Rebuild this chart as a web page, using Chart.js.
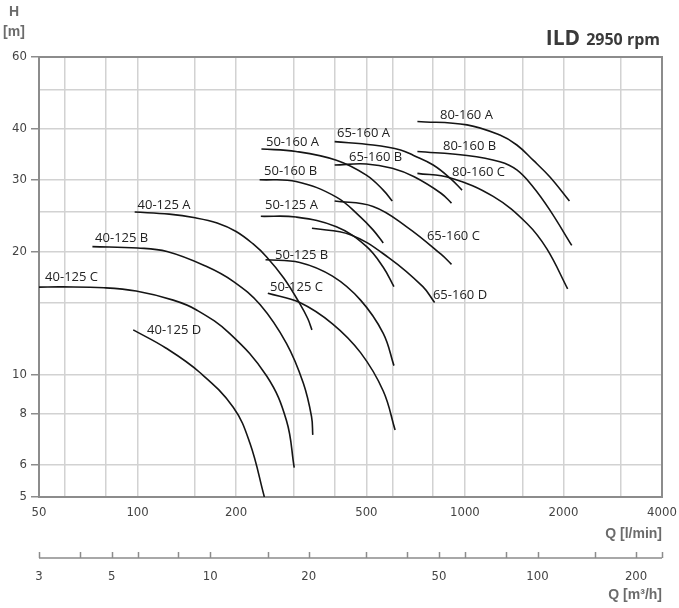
<!DOCTYPE html>
<html>
<head>
<meta charset="utf-8">
<title>ILD 2950 rpm</title>
<script src="https://cdn.jsdelivr.net/npm/chart.js@4"></script>
<style>
    html, body { margin: 0; padding: 0; background: #fff; }
    #wrap { width: 679px; height: 608px; }
</style>
</head>
<body>
<div id="wrap"><canvas id="pump-chart"></canvas></div>
<script>
// Axis ticks and labels
const qGrid = [50, 60, 80, 100, 150, 200, 300, 400, 500, 600, 800, 1000, 1500, 2000, 3000, 4000];
const qLabels = [50, 100, 200, 500, 1000, 2000, 4000];
const hGrid = [5, 6, 8, 10, 15, 20, 25, 30, 40, 50, 60];
const hLabels = [5, 6, 8, 10, 20, 30, 40, 60];
const m3Ticks = [3, 4, 5, 6, 8, 10, 15, 20, 30, 40, 50, 60, 80, 100, 150, 200, 240];
const m3Labels = [3, 5, 10, 20, 50, 100, 200];

// Pump curves, Q in l/min and H in m
const q40125A = [98, 125, 150, 175, 200, 225, 248, 280, 313, 331, 341];
const h40125A = [25.0, 24.7, 24.2, 23.5, 22.4, 20.9, 19.4, 17.2, 14.9, 13.7, 12.85];
const q40125B = [72.8, 100, 123, 162, 196, 237, 285, 321, 340, 343];
const h40125B = [20.56, 20.4, 20.0, 18.4, 16.9, 14.8, 11.9, 9.5, 7.87, 7.1];
const q40125C = [50, 59, 79, 99, 128.5, 151, 191, 248, 285, 301];
const h40125C = [16.36, 16.38, 16.3, 16.0, 15.2, 14.4, 12.6, 9.9, 7.7, 5.9];
const q40125D = [97, 122, 155, 196, 220.5, 244];
const h40125D = [12.85, 11.6, 10.1, 8.3, 6.77, 5.0];

const q50160A = [239, 305, 405, 500, 563, 600];
const h50160A = [35.7, 35.2, 33.5, 30.8, 28.3, 26.6];
const q50160B = [236, 305, 405, 480, 524, 563];
const h50160B = [30.0, 29.7, 27.2, 24.3, 22.6, 21.0];
const q50125A = [238, 305, 405, 500, 563, 607];
const h50125A = [24.4, 24.3, 23.0, 20.6, 18.3, 16.4];
const q50125B = [246, 313, 394, 480, 563, 607];
const h50125B = [19.1, 18.8, 17.4, 15.2, 12.6, 10.5];
const q50125C = [250, 313, 394, 480, 563, 612];
const h50125C = [15.8, 15.0, 13.3, 11.3, 9.1, 7.3];

const q65160A = [400, 524, 636, 697, 800, 904, 980];
const h65160A = [37.2, 36.5, 35.5, 34.4, 32.6, 30.2, 28.3];
const q65160B = [400, 500, 600, 700, 845, 910];
const h65160B = [32.6, 32.8, 32.0, 30.5, 27.8, 26.3];
const q65160C = [400, 524, 664, 845, 910];
const h65160C = [26.6, 25.8, 23.0, 19.7, 18.6];
const q65160D = [341, 447, 586, 744, 808];
const h65160D = [22.8, 22.0, 19.3, 16.4, 15.0];

const q80160A = [716, 1015, 1279, 1441, 1616, 1816, 2086];
const h80160A = [41.7, 40.9, 38.6, 36.5, 33.5, 30.5, 26.6];
const q80160B = [716, 1015, 1279, 1441, 1616, 1816, 2120];
const h80160B = [35.2, 34.4, 33.2, 31.7, 28.8, 25.3, 20.7];
const q80160C = [716, 904, 1220, 1550, 1780, 2060];
const h80160C = [31.1, 30.3, 27.3, 23.4, 20.3, 16.2];

const curves = [
    ['40-125 A', q40125A, h40125A], ['40-125 B', q40125B, h40125B],
    ['40-125 C', q40125C, h40125C], ['40-125 D', q40125D, h40125D],
    ['50-160 A', q50160A, h50160A], ['50-160 B', q50160B, h50160B],
    ['50-125 A', q50125A, h50125A], ['50-125 B', q50125B, h50125B],
    ['50-125 C', q50125C, h50125C],
    ['65-160 A', q65160A, h65160A], ['65-160 B', q65160B, h65160B],
    ['65-160 C', q65160C, h65160C], ['65-160 D', q65160D, h65160D],
    ['80-160 A', q80160A, h80160A], ['80-160 B', q80160B, h80160B],
    ['80-160 C', q80160C, h80160C]
];

// where each curve name sits (left edge, middle), in Q / H units
const labelAt = {
    '40-125 A': [100, 26.0], '40-125 B': [74.2, 21.6], '40-125 C': [52.2, 17.3],
    '40-125 D': [106.9, 12.85], '50-160 A': [246.8, 37.1], '50-160 B': [243.4, 31.5],
    '50-125 A': [245, 25.9], '50-125 B': [262.9, 19.6], '50-125 C': [253.8, 16.36],
    '65-160 A': [406.6, 38.9], '65-160 B': [442.5, 34.1], '65-160 C': [765.6, 21.8],
    '65-160 D': [798.6, 15.65], '80-160 A': [839, 43.2], '80-160 B': [857, 36.3],
    '80-160 C': [913, 31.2]
};

const tickFont = { family: '"Liberation Sans Narrow", "DejaVu Sans Condensed", "Liberation Sans", sans-serif', size: 13 };
const titleColor = '#6b6b6b';

// keep the plot box fixed, whatever the tick label widths
function fixHeight(h) {
    return function(s) {
        s.height = h;
        s.paddingLeft = 0;
        s.paddingRight = 0;
    };
}

const extras = {
    id: 'extras',
    beforeDatasetsDraw(chart) {
        // plot frame
        const { ctx, chartArea: a } = chart;
        ctx.save();
        ctx.strokeStyle = '#8c8c8c';
        ctx.lineWidth = 2;
        ctx.strokeRect(a.left, a.top, a.right - a.left, a.bottom - a.top);
        ctx.restore();
    },
    afterDatasetsDraw(chart) {
        const { ctx } = chart;
        const x = chart.scales.x, y = chart.scales.y;
        ctx.save();
        ctx.font = '13px "Open Sans", sans-serif';
        ctx.fillStyle = '#222';
        ctx.textAlign = 'left';
        ctx.textBaseline = 'middle';
        curves.forEach(function(c) {
            const p = labelAt[c[0]];
            ctx.fillText(c[0], x.getPixelForValue(p[0]), y.getPixelForValue(p[1]));
        });
        ctx.restore();
    },
    afterDraw(chart) {
        const { ctx } = chart;
        const x2 = chart.scales.x2;
        const a = chart.chartArea;
        ctx.save();

        // second Q axis: line with ticks pointing up
        const top = x2.top;
        ctx.strokeStyle = '#8c8c8c';
        ctx.lineWidth = 1.5;
        ctx.beginPath();
        ctx.moveTo(x2.left, top);
        ctx.lineTo(x2.right, top);
        m3Ticks.forEach(function(v) {
            const px = Math.round(x2.getPixelForValue(v)) + 0.5;
            ctx.moveTo(px, top);
            ctx.lineTo(px, top - 6);
        });
        ctx.stroke();

        // axis titles
        ctx.fillStyle = titleColor;
        ctx.font = 'bold 14px "Liberation Sans", sans-serif';
        ctx.textBaseline = 'middle';
        ctx.textAlign = 'center';
        ctx.fillText('H', 14, 12);
        ctx.fillText('[m]', 14, 32);
        ctx.textAlign = 'right';
        ctx.fillText('Q [l/min]', a.right, 534);
        ctx.fillText('Q [m³/h]', a.right, 595);

        // heading
        ctx.fillStyle = '#3a3a3a';
        ctx.textBaseline = 'alphabetic';
        ctx.font = 'bold 16px "Open Sans", sans-serif';
        const rpm = '2950 rpm';
        ctx.fillText(rpm, 660, 45);
        const w = ctx.measureText(rpm).width;
        ctx.font = 'bold 21px "Open Sans", sans-serif';
        ctx.fillText('ILD', 660 - w - 6, 45);
        ctx.restore();
    }
};

function initChart() {
    const canvas = document.getElementById('pump-chart');
    const datasets = curves.map(function(c) {
        return {
            label: c[0],
            data: c[1].map(function(q, i) { return { x: q, y: c[2][i] }; }),
            borderColor: '#151515',
            borderWidth: 1.6,
            pointRadius: 0,
            fill: false,
            tension: 0.4
        };
    });

    new Chart(canvas, {
        type: 'line',
        data: { datasets: datasets },
        options: {
            responsive: true,
            maintainAspectRatio: false,
            animation: false,
            layout: { autoPadding: false, padding: { top: 57, right: 17, left: 0, bottom: 0 } },
            plugins: { legend: { display: false }, tooltip: { enabled: false } },
            scales: {
                x: {
                    type: 'logarithmic',
                    position: 'bottom',
                    weight: 0,
                    min: 50,
                    max: 4000,
                    afterBuildTicks: function(s) { s.ticks = qGrid.map(function(v) { return { value: v }; }); },
                    afterFit: fixHeight(61),
                    grid: { color: '#d2d2d2', lineWidth: 1.5, drawTicks: false },
                    border: { display: false },
                    ticks: {
                        autoSkip: false, maxRotation: 0, padding: 8,
                        color: '#444', font: tickFont,
                        callback: function(v) { return qLabels.includes(v) ? String(v) : ''; }
                    }
                },
                x2: {
                    type: 'logarithmic',
                    position: 'bottom',
                    weight: 1,
                    min: 3,
                    max: 240,
                    afterBuildTicks: function(s) { s.ticks = m3Ticks.map(function(v) { return { value: v }; }); },
                    afterFit: fixHeight(50),
                    grid: { display: false, drawTicks: false },
                    border: { display: false },
                    ticks: {
                        autoSkip: false, maxRotation: 0, padding: 11,
                        color: '#444', font: tickFont,
                        callback: function(v) { return m3Labels.includes(v) ? String(v) : ''; }
                    }
                },
                y: {
                    type: 'logarithmic',
                    min: 5,
                    max: 60,
                    afterBuildTicks: function(s) { s.ticks = hGrid.map(function(v) { return { value: v }; }); },
                    afterFit: function(s) { s.width = 39; s.paddingTop = 0; s.paddingBottom = 0; },
                    grid: {
                        color: '#d2d2d2', lineWidth: 1.5, tickLength: 8,
                        tickColor: function(ctx) {
                            return ctx.tick && hLabels.includes(ctx.tick.value) ? '#8c8c8c' : 'rgba(0,0,0,0)';
                        }
                    },
                    border: { display: false },
                    ticks: {
                        autoSkip: false, padding: 4,
                        color: '#444', font: tickFont,
                        callback: function(v) { return hLabels.includes(v) ? String(v) : ''; }
                    }
                }
            }
        },
        plugins: [extras]
    });
}

document.addEventListener('DOMContentLoaded', initChart);
</script>
</body>
</html>
